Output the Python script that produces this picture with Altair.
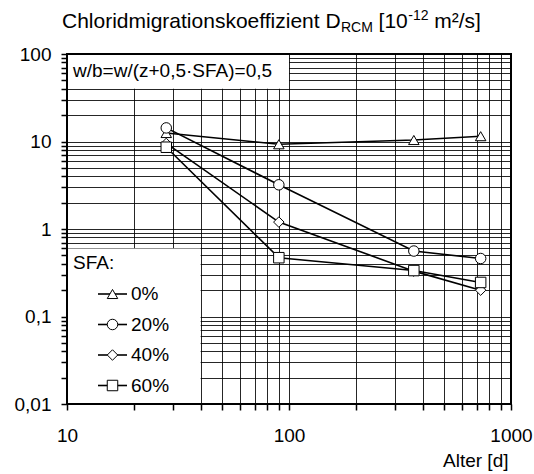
import altair as alt
import pandas as pd

# Prüfalter [d] und Chloridmigrationskoeffizienten D_RCM [10^-12 m²/s]
ages = [28, 90, 365, 730]
sfa_levels = ["0%", "20%", "40%", "60%"]
d_sfa_0 = [12.5, 9.3, 10.4, 11.5]
d_sfa_20 = [14.3, 3.2, 0.56, 0.46]
d_sfa_40 = [9.5, 1.2, 0.33, 0.20]
d_sfa_60 = [8.6, 0.47, 0.335, 0.245]

x_decades = [10, 100, 1000]
x_tick_labels = ["10", "100", "1000"]
y_decades = [0.01, 0.1, 1, 10, 100]
y_tick_labels = ["0,01", "0,1", "1", "10", "100"]

FONT = "Liberation Sans"
FS = 19
W, H = 444, 350

series = [d_sfa_0, d_sfa_20, d_sfa_40, d_sfa_60]
rows = []
for lab, vals in zip(sfa_levels, series):
    for a, v in zip(ages, vals):
        rows.append({"sfa": lab, "alter": a, "d": v})
df = pd.DataFrame(rows)

shapes = ["triangle-up", "circle", "diamond", "square"]


def log_grid(lo_exp, hi_exp):
    vals = []
    for e in range(lo_exp, hi_exp):
        for m in range(1, 10):
            vals.append(round(m * 10.0 ** e, 6))
    vals.append(round(10.0 ** hi_exp, 6))
    return vals


x_grid = log_grid(1, 3)
y_grid = log_grid(-2, 2)


def label_expr(values, labels):
    parts = "".join(f"datum.value == {v} ? '{l}' : " for v, l in zip(values, labels))
    return parts + "''"


x_scale = alt.Scale(type="log", domain=[10, 1000], nice=False)
y_scale = alt.Scale(type="log", domain=[0.01, 100], nice=False)

x_axis = alt.Axis(
    values=x_grid, labelExpr=label_expr(x_decades, x_tick_labels),
    grid=True, gridColor="#000000", gridWidth=1, gridOpacity=0.85,
    domain=False, ticks=True, tickColor="#000000", tickWidth=1.5, tickSize=6,
    labelFont=FONT, labelFontSize=FS, labelColor="#000000", labelPadding=16,
    labelOverlap=False, labelFlush=False,
    title="Alter [d]", titleFont=FONT, titleFontSize=FS, titleFontWeight="normal",
    titleColor="#000000", titleAlign="right", titleBaseline="alphabetic",
    titleX=441, titleY=62,
)
y_axis = alt.Axis(
    values=y_grid, labelExpr=label_expr(y_decades, y_tick_labels),
    grid=True, gridColor="#000000", gridWidth=1, gridOpacity=0.85,
    domain=False, ticks=True, tickColor="#000000", tickWidth=1.5, tickSize=6,
    labelFont=FONT, labelFontSize=FS, labelColor="#000000", labelPadding=10,
    labelOverlap=False, labelFlush=False, title=None,
)

x_enc = alt.X("alter:Q", scale=x_scale, axis=x_axis)
y_enc = alt.Y("d:Q", scale=y_scale, axis=y_axis)

# white boxes for the annotation and the legend
boxes = pd.DataFrame({
    "x0": [10, 10], "x1": [100, 40],
    "y0": [40, 0.01], "y1": [100, 0.6],
})
box_layer = alt.Chart(boxes).mark_rect(fill="white", strokeWidth=0).encode(
    x=alt.X("x0:Q", scale=x_scale, axis=x_axis), x2="x1:Q",
    y=alt.Y("y0:Q", scale=y_scale, axis=y_axis), y2="y1:Q",
)

lines = alt.Chart(df).mark_line(color="black", strokeWidth=1.6).encode(
    x=x_enc, y=y_enc, detail="sfa:N", order="alter:Q",
)

points = alt.Chart(df).mark_point(
    filled=True, fill="white", stroke="black", strokeWidth=1, size=110, opacity=1,
).encode(
    x=x_enc, y=y_enc,
    shape=alt.Shape("sfa:N", scale=alt.Scale(domain=sfa_levels, range=shapes), legend=None),
)

frame = alt.Chart(pd.DataFrame({"a": [0]})).mark_rect(
    fillOpacity=0, stroke="black", strokeWidth=2,
).encode(
    x=alt.datum(10), x2=alt.datum(1000), y=alt.datum(0.01), y2=alt.datum(100),
)

one = pd.DataFrame({"a": [0]})


def text(t, x, y, size=FS, align="left", baseline="alphabetic"):
    return alt.Chart(one).mark_text(
        text=t, font=FONT, fontSize=size, color="black", align=align, baseline=baseline,
    ).encode(x=alt.value(x), y=alt.value(y))


# title with subscript and superscript
title_y = -26
title_parts = [
    text("Chloridmigrationskoeffizient D", -5, title_y, 21),
    text("RCM", 274, title_y + 4, 14),
    text("[10", 311.6, title_y, 21),
    text("-12", 341.3, title_y - 8, 14),
    text("m²/s]", 367.3, title_y, 21),
]

note = text("w/b=w/(z+0,5·SFA)=0,5", 6, 23)

legend_layers = [text("SFA:", 6, 209, baseline="middle")]
leg_y0, leg_dy = 240, 30.5
for i, (lab, shp) in enumerate(zip(sfa_levels, shapes)):
    yy = leg_y0 + i * leg_dy
    legend_layers.append(
        alt.Chart(one).mark_rule(color="black", strokeWidth=1.6).encode(
            x=alt.value(31), x2=alt.value(60), y=alt.value(yy))
    )
    legend_layers.append(
        alt.Chart(one).mark_point(
            shape=shp, filled=True, fill="white", stroke="black", strokeWidth=1, size=110, opacity=1,
        ).encode(x=alt.value(45.5), y=alt.value(yy))
    )
    legend_layers.append(text(lab, 64, yy, baseline="middle"))

chart = alt.layer(
    box_layer, lines, points, frame, note, *title_parts, *legend_layers,
).properties(
    width=W, height=H,
    padding={"left": 67, "top": 54, "right": 23, "bottom": 70},
    autosize=alt.AutoSizeParams(type="none"),
    background="white",
).configure_view(stroke=None)

chart.save("out.html", embed_options={"renderer": "svg", "actions": False})
